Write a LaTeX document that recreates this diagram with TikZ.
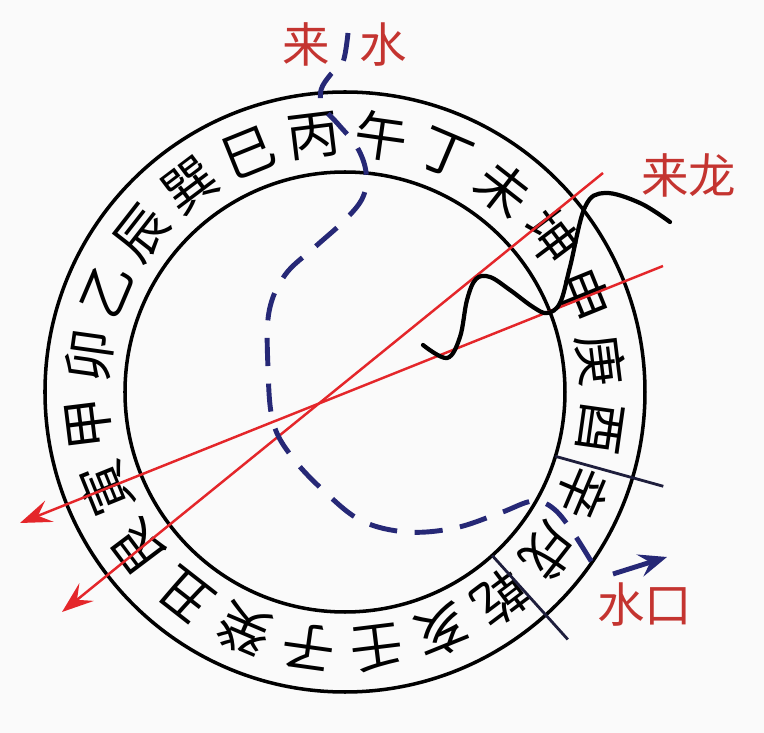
\documentclass[tikz,border=0pt]{standalone}
\usepackage{fontspec}
\newfontfamily\cjk{Noto Sans CJK SC}
\usetikzlibrary{arrows.meta}
\definecolor{paper}{RGB}{250,250,250}
\definecolor{rayred}{RGB}{228,38,42}
\definecolor{labelred}{RGB}{196,52,48}
\definecolor{waterblue}{RGB}{38,40,118}
\definecolor{divider}{RGB}{30,30,60}

\begin{document}
\begin{tikzpicture}[x=1cm, y=1cm,
	mountain/.style={font=\cjk\fontsize{15}{16}\selectfont, inner sep=0pt},
	redlabel/.style={font=\cjk\fontsize{13.5}{14}\selectfont, text=labelred, inner sep=0pt},
	ray/.style={rayred, line width=0.7pt, -{Stealth[length=9pt, width=6.5pt, inset=3.5pt]}},
	water/.style={waterblue, line width=1.4pt, dash pattern=on 8pt off 5pt},
	outflow/.style={waterblue, line width=1.4pt, -{Stealth[length=8pt, width=6.5pt, inset=3pt]}},
	dragon/.style={black, line width=1.2pt, line cap=round}]
	\useasboundingbox[fill=paper] (-3.45, -3.41) rectangle (4.19, 3.92);

	% ring of the 24 mountains
	\draw[line width=1pt] (0, 0) circle (3.0);
	\draw[line width=1pt] (0, 0) circle (2.2);
	\foreach \name [count=\k from 0] in {午,丁,未,坤,申,庚,酉,辛,戌,乾,亥,壬,子,癸,丑,艮,寅,甲,卯,乙,辰,巽,巳,丙}
		\node[mountain, rotate={-8-15*\k}] (m\k) at ({82-15*\k}:2.58) {\name};
	\draw[divider, line width=0.8pt] (-17:2.2) -- (-16.5:3.32);
	\draw[divider, line width=0.8pt] (-48:2.2) -- (-48:3.33);

	% red lines
	\coordinate (longtop) at (2.58, 2.19);
	\coordinate (longtip) at (-2.83, -2.20);
	\coordinate (shorttop) at (3.18, 1.26);
	\coordinate (shorttip) at (-3.25, -1.31);
	\draw[ray] (longtop) -- (longtip);
	\draw[ray] (shorttop) -- (shorttip);

	% water
	\draw[water] plot[smooth, tension=0.6] coordinates {(0.03, 3.59) (-0.02, 3.30) (-0.14, 3.18) (-0.24, 3.02) (-0.22, 2.85) (-0.07, 2.68) (0.12, 2.45) (0.21, 2.20) (0.18, 1.95) (0.00, 1.72) (-0.30, 1.45) (-0.60, 1.17) (-0.76, 0.80) (-0.77, 0.24) (-0.72, -0.30) (-0.53, -0.65) (-0.20, -1.00) (0.17, -1.29) (0.62, -1.40) (1.10, -1.36) (1.55, -1.21) (1.88, -1.09) (2.09, -1.17) (2.29, -1.42) (2.52, -1.79)};
	\coordinate (mouth) at (2.68, -1.82);
	\coordinate (away) at (3.22, -1.65);
	\draw[outflow] (mouth) -- (away);

	% dragon
	\draw[dragon] plot[smooth, tension=0.6] coordinates {(0.78, 0.47) (1.02, 0.34) (1.15, 0.55) (1.22, 0.92) (1.31, 1.13) (1.45, 1.15) (1.65, 1.02) (1.88, 0.85) (2.02, 0.79) (2.15, 0.89) (2.25, 1.25) (2.40, 1.85) (2.60, 1.99) (2.95, 1.89) (3.25, 1.70)};

	% labels
	\node[redlabel] (laishui) at (0.0, 3.48) {来\hspace{0.3cm}水};
	\node[redlabel] (lailong) at (3.44, 2.17) {来龙};
	\node[redlabel] (shuikou) at (3.00, -2.13) {水口};
\end{tikzpicture}
\end{document}
